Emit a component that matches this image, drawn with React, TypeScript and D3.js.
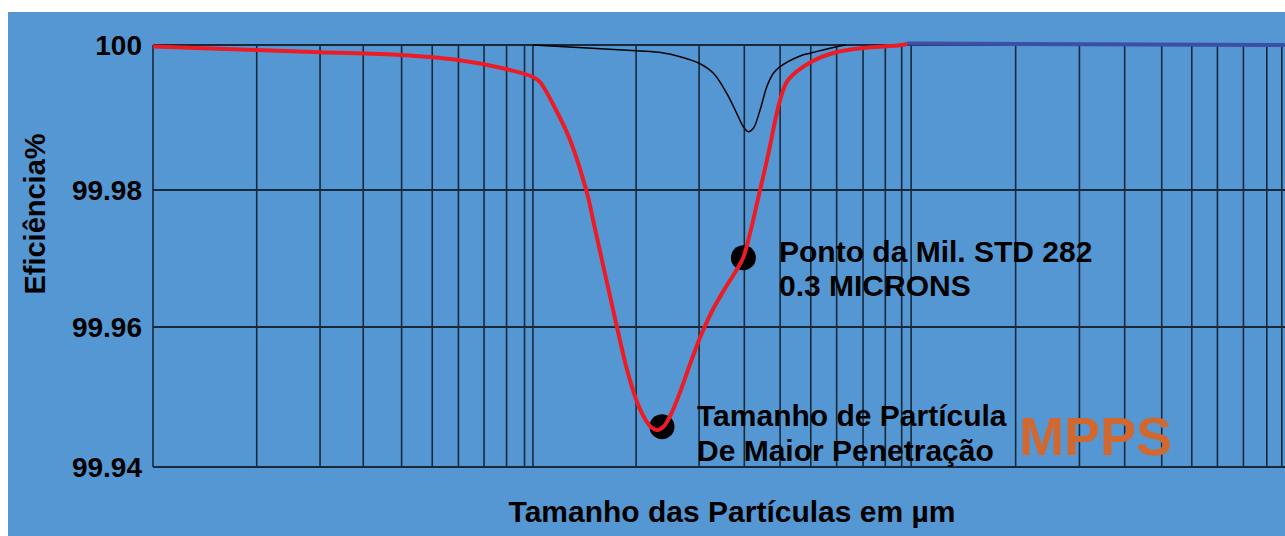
import React from 'react';
import * as d3 from 'd3';

// Efficiency ticks (%), drawn as horizontal grid lines
const effTicks = [100, 99.98, 99.96, 99.94];

// Particle sizes (µm) of the vertical grid lines
const gridSizes = [
  0.01, 0.0188, 0.02764, 0.03595, 0.04541, 0.05471, 0.06417, 0.07499, 0.08601, 0.09594,
  0.101, 0.1892, 0.2776, 0.3656, 0.4545, 0.5478, 0.6412, 0.753, 0.8622, 0.9526,
  1.009, 1.906, 2.81, 3.701, 4.637, 5.568, 6.508, 7.624, 8.79, 9.63,
];

// Filter efficiency curve (red)
const filterSizes = [
  0.01, 0.01872, 0.02764, 0.04525, 0.06401, 0.08575, 0.101, 0.1054, 0.1162, 0.1266,
  0.1412, 0.1456, 0.1684, 0.1791, 0.1903, 0.1998, 0.2072, 0.2149, 0.2243, 0.2341,
  0.2473, 0.2628, 0.281, 0.3005, 0.3231, 0.3434, 0.3628, 0.3786, 0.3951, 0.4225,
  0.4545, 0.4771, 0.5488, 0.6429, 0.753, 0.9548, 0.9842,
];
const filterEff = [
  99.99979, 99.99931, 99.99899, 99.99862, 99.99793, 99.99669, 99.99559, 99.9949, 99.99103, 99.9869,
  99.97898, 99.97562, 99.96, 99.95386, 99.94929, 99.94686, 99.94571, 99.94529, 99.94586, 99.94757,
  99.95071, 99.95471, 99.95886, 99.96234, 99.9654, 99.96774, 99.97007, 99.97372, 99.9781, 99.98483,
  99.99241, 99.99517, 99.99766, 99.99903, 99.99959, 100, 100.0002,
];

// Thin reference curve (black)
const refSizes = [
  0.101, 0.1892, 0.2215, 0.2473, 0.2776, 0.3029, 0.3285, 0.3491, 0.3634, 0.3746,
  0.3862, 0.4023, 0.4192, 0.4363, 0.4545, 0.5133, 0.5478, 0.6412, 0.6778,
];
const refEff = [
  100, 99.99921, 99.99894, 99.99839, 99.99748, 99.9961, 99.99334, 99.99058, 99.98873, 99.98804,
  99.98851, 99.99103, 99.99425, 99.9961, 99.99701, 99.99848, 99.9989, 99.99977, 100,
];

// Flat tail (dark blue)
const tailSizes = [0.9842, 10];
const tailEff = [100.0002, 100];

// Marked points
const points = [
  { size: 0.2215, eff: 99.94576 },
  { size: 0.3635, eff: 99.97012 },
];

const FONT = '"Liberation Sans", Arial, Helvetica, sans-serif';

export default function App() {
  const width = 1285;
  const height = 536;

  const x = d3.scaleLog().domain([0.01, 10]).range([153, 1288]);
  const y = d3.scaleLinear().domain([99.94, 99.96, 99.98, 100]).range([467, 327, 190, 45]);

  const smooth = d3
    .line<[number, number]>()
    .x(d => x(d[0]))
    .y(d => y(d[1]))
    .curve(d3.curveCatmullRom.alpha(0.5));

  const filterPath = smooth(filterSizes.map((s, i) => [s, filterEff[i]] as [number, number])) || '';
  const refPath = smooth(refSizes.map((s, i) => [s, refEff[i]] as [number, number])) || '';
  const tailPath = d3
    .line<[number, number]>()
    .x(d => x(d[0]))
    .y(d => y(d[1]))(tailSizes.map((s, i) => [s, tailEff[i]] as [number, number])) || '';

  const gridColor = '#17293a';

  return (
    <svg
      width={width}
      height={height}
      style={{ position: 'fixed', left: 0, top: 0, display: 'block' }}
      fontFamily={FONT}
      fontWeight="bold"
    >
      <rect x={0} y={0} width={width} height={height} fill="#ffffff" />
      <rect x={8} y={12} width={width - 8} height={height - 12} fill="#5597d3" />

      {/* vertical grid */}
      <g stroke={gridColor} strokeWidth={1.6}>
        {gridSizes.map((s, i) => (
          <line key={i} x1={x(s)} x2={x(s)} y1={y(100)} y2={y(99.94)} />
        ))}
      </g>

      {/* horizontal grid */}
      <g stroke={gridColor} strokeWidth={2}>
        {effTicks.map(t => (
          <line key={t} x1={x(0.01)} x2={width} y1={y(t)} y2={y(t)} />
        ))}
      </g>

      {/* y tick labels */}
      <g fontSize={28} textAnchor="end" fill="#000">
        {effTicks.map(t => (
          <text key={t} x={142} y={y(t)} dy="0.35em">
            {t === 100 ? '100' : t.toFixed(2)}
          </text>
        ))}
      </g>

      {/* curves */}
      <path d={refPath} fill="none" stroke="#000" strokeWidth={1.5} />
      <path d={tailPath} fill="none" stroke="#3c4ea6" strokeWidth={4} />

      {/* marked points */}
      {points.map((p, i) => (
        <circle key={i} cx={x(p.size)} cy={y(p.eff)} r={12.5} fill="#000" />
      ))}
      <path d={filterPath} fill="none" stroke="#ed1c24" strokeWidth={4} strokeLinejoin="round" />

      {/* annotations */}
      <g fontSize={30} fill="#000">
        <text x={779} y={262}>Ponto da Mil. STD 282</text>
        <text x={779} y={296}>0.3 MICRONS</text>
        <text x={697} y={426}>Tamanho de Partícula</text>
        <text x={697} y={461}>De Maior Penetração</text>
      </g>
      <text x={1019} y={455} fontSize={54} fill="#d0682f">
        MPPS
      </text>

      {/* axis titles */}
      <text x={732} y={522} fontSize={30} textAnchor="middle" fill="#000">
        Tamanho das Partículas em µm
      </text>
      <text
        transform="translate(45,214) rotate(-90)"
        fontSize={29}
        textAnchor="middle"
        fill="#000"
      >
        Eficiência%
      </text>
    </svg>
  );
}
